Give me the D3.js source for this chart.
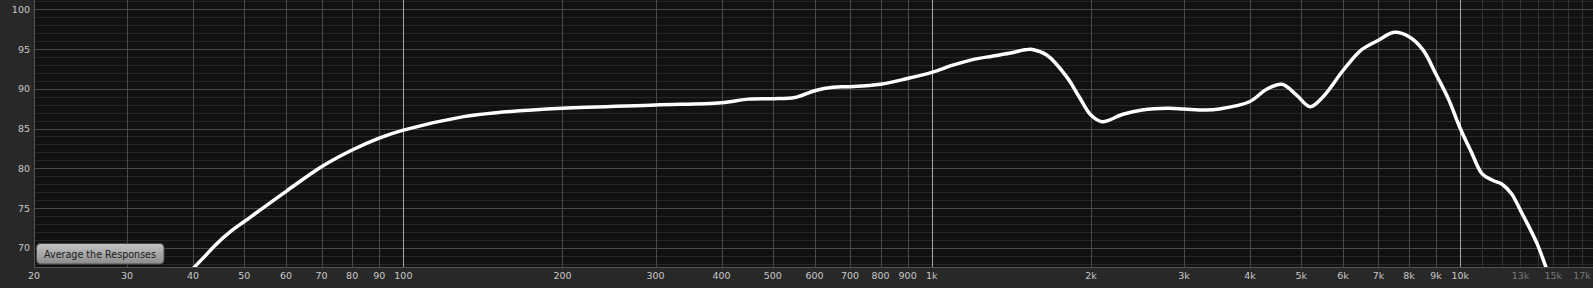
<!DOCTYPE html>
<html>
<head>
<meta charset="utf-8">
<script src="https://cdn.jsdelivr.net/npm/d3@7"></script>
<style>
  html, body { margin: 0; padding: 0; background: #282828; }
  svg { display: block; }
</style>
</head>
<body>
<div class="interactive-wrapper"></div>
<script>
// response curve (Hz, dB)
const freqs = [39, 40, 42, 44, 47, 50, 60, 70, 80, 90, 100, 130, 150, 200, 300, 400, 450, 500, 550, 600, 650, 700,
  800, 900, 1000, 1100, 1200, 1300, 1400, 1500, 1550, 1650, 1800, 1900, 2000, 2100, 2300, 2500, 2800,
  3000, 3300, 3500, 4000, 4300, 4600, 4900, 5200, 5500, 6000, 6500, 7000, 7500, 8000, 8500, 9000, 9500,
  10000, 10500, 11000, 11500, 12000, 12500, 13000, 14000, 14500, 15000]
const levels = [66.6, 67.4, 68.85, 70.3, 72.0, 73.3, 77.1, 80.2, 82.3, 83.8, 84.8, 86.5, 87.0, 87.55, 87.96, 88.25, 88.7, 88.76, 88.9, 89.76, 90.2, 90.26,
  90.56, 91.3, 92.07, 93.0, 93.7, 94.1, 94.46, 94.9, 94.95, 94.25, 91.5, 89.0, 86.7, 85.86, 86.8, 87.33, 87.55,
  87.46, 87.33, 87.46, 88.4, 89.94, 90.56, 89.2, 87.75, 89.0, 92.3, 94.9, 96.1, 97.1, 96.55, 94.9, 91.8, 88.7,
  85.0, 82.0, 79.3, 78.5, 78.0, 76.8, 74.7, 70.4, 67.7, 65.3]

// grid / ticks
const freqGrid = [20, 30, 40, 50, 60, 70, 80, 90, 100, 200, 300, 400, 500, 600, 700, 800, 900, 1000,
  2000, 3000, 4000, 5000, 6000, 7000, 8000, 9000, 10000, 11000, 12000, 13000, 14000, 15000, 16000, 17000]
const freqLabels = [20, 30, 40, 50, 60, 70, 80, 90, 100, 200, 300, 400, 500, 600, 700, 800, 900, 1000,
  2000, 3000, 4000, 5000, 6000, 7000, 8000, 9000, 10000, 13000, 15000, 17000]
const dbMajor = [70, 75, 80, 85, 90, 95, 100]
const dbMinor = d3.range(68, 102)

const width = 1593
const height = 288
const plotBottom = 267
const plotLeft = 34

const x = d3.scaleLog().domain([20, 17830]).range([plotLeft, width])
const y = d3.scaleLinear().domain([67.58, 101.17]).range([plotBottom, 0])

const svg = d3.select('.interactive-wrapper')
.append('svg')
.attr('width', width)
.attr('height', height)

svg.append('rect')
.attr('width', width)
.attr('height', height)
.style('fill', '#282828')

svg.append('rect')
.attr('x', plotLeft)
.attr('y', 0)
.attr('width', width - plotLeft)
.attr('height', plotBottom)
.style('fill', '#111111')

const defs = svg.append('defs')
defs.append('clipPath')
.attr('id', 'plot-clip')
.append('rect')
.attr('x', plotLeft)
.attr('y', 0)
.attr('width', width - plotLeft)
.attr('height', plotBottom)

const grad = defs.append('linearGradient')
.attr('id', 'btn-grad')
.attr('x1', 0).attr('y1', 0).attr('x2', 0).attr('y2', 1)
grad.append('stop').attr('offset', '0%').attr('stop-color', '#c4c4c4')
grad.append('stop').attr('offset', '100%').attr('stop-color', '#8c8c8c')

// horizontal grid
svg.append('g')
.selectAll('line')
.data(dbMinor.filter(d => !dbMajor.includes(d)))
.enter()
.append('line')
.attr('x1', plotLeft).attr('x2', width)
.attr('y1', d => Math.round(y(d)) + 0.5)
.attr('y2', d => Math.round(y(d)) + 0.5)
.style('stroke', '#262626')

svg.append('g')
.selectAll('line')
.data(dbMajor)
.enter()
.append('line')
.attr('x1', plotLeft).attr('x2', width)
.attr('y1', d => Math.round(y(d)) + 0.5)
.attr('y2', d => Math.round(y(d)) + 0.5)
.style('stroke', '#4a4a4a')

// vertical grid
const vColor = d => {
  if (d === 100 || d === 1000 || d === 10000) return '#a8a8a8'
  if (d > 10000) return '#333333'
  return '#4a4a4a'
}

svg.append('g')
.selectAll('line')
.data(freqGrid.filter(d => d > 20))
.enter()
.append('line')
.attr('x1', d => Math.round(x(d)) + 0.5)
.attr('x2', d => Math.round(x(d)) + 0.5)
.attr('y1', 0).attr('y2', plotBottom)
.style('stroke', vColor)

// plot border (left / bottom)
svg.append('line')
.attr('x1', plotLeft + 0.5).attr('x2', plotLeft + 0.5)
.attr('y1', 0).attr('y2', plotBottom)
.style('stroke', '#555')
svg.append('line')
.attr('x1', plotLeft).attr('x2', width)
.attr('y1', plotBottom + 0.5).attr('y2', plotBottom + 0.5)
.style('stroke', '#555')

// axis labels
svg.append('g')
.selectAll('text')
.data(freqLabels)
.enter()
.append('text')
.attr('x', d => x(d))
.attr('y', 279)
.attr('text-anchor', 'middle')
.style('font-family', 'DejaVu Sans, sans-serif')
.style('font-size', '9.5px')
.style('fill', d => d > 10000 ? '#777' : '#c8c8c8')
.text(d => d >= 1000 ? (d / 1000) + 'k' : d)

svg.append('g')
.selectAll('text')
.data(dbMajor)
.enter()
.append('text')
.attr('x', 30)
.attr('y', d => y(d) + 3.5)
.attr('text-anchor', 'end')
.style('font-family', 'DejaVu Sans, sans-serif')
.style('font-size', '9.5px')
.style('fill', '#c8c8c8')
.text(d => d)

// response curve
const line = d3.line()
.x(d => x(d[0]))
.y(d => y(d[1]))
.curve(d3.curveCatmullRom.alpha(0.5))

svg.append('path')
.datum(d3.zip(freqs, levels))
.attr('clip-path', 'url(#plot-clip)')
.attr('d', line)
.style('fill', 'none')
.style('stroke', '#ffffff')
.style('stroke-width', 3.5)
.style('stroke-linejoin', 'round')

// button
const btn = svg.append('g')
btn.append('rect')
.attr('x', 36.5)
.attr('y', 243.5)
.attr('width', 127.5)
.attr('height', 20.5)
.attr('rx', 4)
.style('fill', 'url(#btn-grad)')
.style('stroke', '#4a4a4a')

btn.append('text')
.attr('x', 100)
.attr('y', 257.5)
.attr('text-anchor', 'middle')
.attr('textLength', 112)
.attr('lengthAdjust', 'spacingAndGlyphs')
.style('font-family', 'DejaVu Sans, sans-serif')
.style('font-size', '10.5px')
.style('fill', '#1a1a1a')
.text('Average the Responses')
</script>
</body>
</html>
